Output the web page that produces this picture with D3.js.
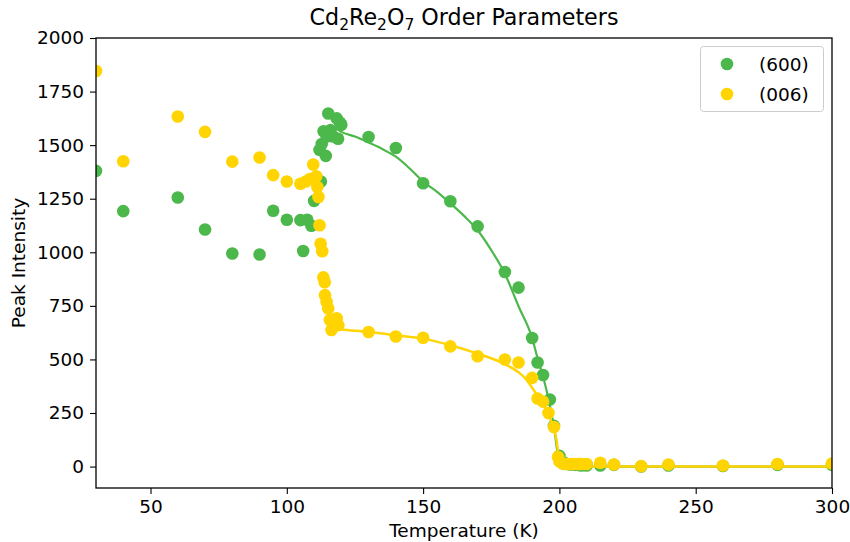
<!DOCTYPE html>
<html>
<head>
<meta charset="utf-8">
<script src="https://cdn.jsdelivr.net/npm/d3@7"></script>
<style>
  html, body { margin: 0; padding: 0; background: #fff; }
  svg { display: block; font-family: "DejaVu Sans", sans-serif; }
</style>
</head>
<body>
<svg id="chart" width="850" height="542"></svg>
<script>
// ---- Data ----
const seriesNames = ["(600)", "(006)"];
const xTicks = [50, 100, 150, 200, 250, 300];
const yTicks = [0, 250, 500, 750, 1000, 1250, 1500, 1750, 2000];

// (600) peak intensity measurements [T (K), intensity]
const points600 = [
  [30,1380],[40,1192],[60,1256],[70,1106],[80,994],[90,990],[95,1194],[100,1152],
  [105,1150],[106,1006],[107.5,1152],[109,1124],[110,1240],[112.5,1330],
  [112,1478],[112.8,1505],[113.5,1565],[114.3,1450],[114.6,1540],[115.2,1648],
  [116,1570],[117,1540],[118.3,1625],[118.8,1530],[119.5,1605],[120,1595],
  [130,1538],[140,1487],[150,1322],[160,1238],[170,1121],[180,908],[185,835],
  [190,600],[192,486],[194,427],[196.5,313],[198,190],[200,50],
  [201,22],[202,15],[203,12],[204,10],[205,10],[206,8],[207,8],[208,5],[210,5],
  [215,5],[220,8],[230,0],[240,5],[260,3],[280,8],[300,8]
];
// (006) peak intensity measurements [T (K), intensity]
const points006 = [
  [30,1846],[40,1425],[60,1634],[70,1562],[80,1423],[90,1442],[95,1360],[100,1330],
  [105,1320],[107,1330],[108.5,1342],[109.7,1410],[110.8,1355],[111.2,1305],[111.6,1258],
  [112,1126],[112.4,1040],[113,1005],[113.4,883],[113.9,860],[114,800],[114.6,768],
  [115.2,738],[115.8,684],[116.4,637],[118.3,692],[118.9,660],
  [130,628],[140,607],[150,601],[160,561],[170,515],[180,500],[185,486],
  [190,414],[192,318],[194,303],[196,250],[198,185],[199.5,45],[200,25],
  [201,15],[202,12],[203,12],[204,12],[205,12],[206,12],[207,12],[208,12],[210,12],
  [215,18],[220,10],[230,2],[240,10],[260,5],[280,12],[300,14]
];
// fitted order-parameter curves [T (K), intensity]
const fit600 = [
  [118,1578],[120,1562],[125,1540],[130,1512],[135,1482],[140,1446],[145,1392],
  [150,1330],[155,1283],[160,1228],[165,1170],[170,1103],[175,1010],[180,900],
  [185,748],[190,600],[192,505],[194,420],[196,315],[198,185],[199.5,50],
  [200.3,8],[202,0],[210,0],[300,0]
];
const fit006 = [
  [116.5,645],[120,640],[130,628],[140,613],[150,597],[160,566],[170,527],
  [180,478],[185,440],[187,418],[190,368],[192,330],[195.3,262],[197.7,184],
  [199,120],[199.7,45],[200.5,10],[202,2],[210,0],[300,0]
];

// ---- Layout ----
const W = 850, H = 542;
const m = {left: 96, right: 18, top: 38, bottom: 54};
const pw = W - m.left - m.right, ph = H - m.top - m.bottom;
const green = "#4cb84c", yellow = "#ffd400";

const svg = d3.select("#chart");
const x = d3.scaleLinear().domain([30, 300]).range([m.left, m.left + pw]);
const y = d3.scaleLinear().domain([-100, 2000]).range([m.top + ph, m.top]);

const plot = svg.append("g");
plot.append("clipPath").attr("id", "clip")
  .append("rect").attr("x", m.left).attr("y", m.top).attr("width", pw).attr("height", ph);

const layer = plot.append("g").attr("clip-path", "url(#clip)");
const line = d3.line().x(d => x(d[0])).y(d => y(d[1])).curve(d3.curveMonotoneX);
const R = 6.3;

// green scatter & fit
layer.append("g").selectAll("circle").data(points600).join("circle")
  .attr("cx", d => x(d[0])).attr("cy", d => y(d[1])).attr("r", R).attr("fill", green);
layer.append("path").datum(fit600).attr("d", line)
  .attr("fill", "none").attr("stroke", green).attr("stroke-width", 2.2);
// yellow scatter & fit
layer.append("g").selectAll("circle").data(points006).join("circle")
  .attr("cx", d => x(d[0])).attr("cy", d => y(d[1])).attr("r", R).attr("fill", yellow);
layer.append("path").datum(fit006).attr("d", line)
  .attr("fill", "none").attr("stroke", yellow).attr("stroke-width", 2.5);

// ---- Axes ----
const fs = 18.5;
const xAxis = d3.axisBottom(x).tickValues(xTicks).tickSize(6).tickPadding(6).tickFormat(d3.format("d"));
const yAxis = d3.axisLeft(y).tickValues(yTicks).tickSize(6).tickPadding(6).tickFormat(d3.format("d"));
const gx = svg.append("g").attr("transform", `translate(0,${m.top + ph})`).call(xAxis);
const gy = svg.append("g").attr("transform", `translate(${m.left},0)`).call(yAxis);
[gx, gy].forEach(g => {
  g.select(".domain").remove();
  g.selectAll("line").attr("stroke", "#000").attr("stroke-width", 1.1);
  g.selectAll("text").attr("font-size", fs).attr("fill", "#000")
    .attr("font-family", "DejaVu Sans, sans-serif");
});

// frame (all four spines)
svg.append("rect").attr("x", m.left).attr("y", m.top).attr("width", pw).attr("height", ph)
  .attr("fill", "none").attr("stroke", "#000").attr("stroke-width", 1.3);

// axis labels
svg.append("text").attr("x", m.left + pw / 2).attr("y", 537)
  .attr("text-anchor", "middle").attr("font-size", fs).text("Temperature (K)");
svg.append("text").attr("transform", `translate(25,${m.top + ph / 2}) rotate(-90)`)
  .attr("text-anchor", "middle").attr("font-size", fs).text("Peak Intensity");

// title with subscripts
const titleParts = [["Cd", false], ["2", true], ["Re", false], ["2", true], ["O", false], ["7", true], [" Order Parameters", false]];
const title = svg.append("text").attr("x", m.left + pw / 2).attr("y", 25)
  .attr("text-anchor", "middle").attr("font-size", 22.2);
titleParts.forEach(([t, sub], i) => {
  const prevSub = i > 0 && titleParts[i - 1][1];
  const ts = title.append("tspan").text(t);
  if (sub) ts.attr("font-size", 15.5).attr("dy", 4.5);
  else ts.attr("dy", prevSub ? -4.5 : 0);
});

// ---- Legend ----
const lg = svg.append("g");
lg.append("rect").attr("x", 700.5).attr("y", 46.5).attr("width", 123).attr("height", 65)
  .attr("rx", 3).attr("fill", "#fff").attr("fill-opacity", 0.8)
  .attr("stroke", "#cccccc").attr("stroke-width", 1);
[[seriesNames[0], green, 64], [seriesNames[1], yellow, 94]].forEach(([name, c, cy]) => {
  lg.append("circle").attr("cx", 727).attr("cy", cy).attr("r", R).attr("fill", c);
  lg.append("text").attr("x", 759).attr("y", cy + 6.5).attr("font-size", fs).text(name);
});
</script>
</body>
</html>
